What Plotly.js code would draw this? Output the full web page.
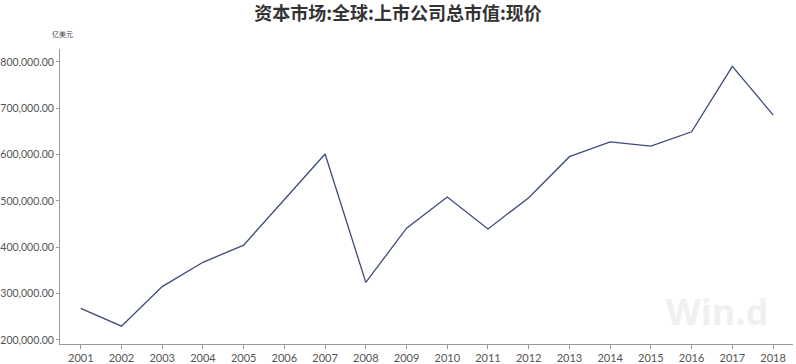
<!DOCTYPE html>
<html><head><meta charset="utf-8">
<script src="https://cdn.plot.ly/plotly-3.0.1.min.js"></script>
<style>html,body{margin:0;padding:0;background:#fff;}#chart{width:796px;height:364px;}</style>
</head><body><div id="chart"></div>
<script>
const years = ['2001','2002','2003','2004','2005','2006','2007','2008','2009','2010','2011','2012','2013','2014','2015','2016','2017','2018'];
const marketCap = [268000, 229500, 315000, 367400, 404500, 502000, 601300, 324000, 441000, 508200, 439500, 507000, 595500, 627300, 618300, 649300, 790400, 685800];
const yTickVals = [200000, 300000, 400000, 500000, 600000, 700000, 800000];
const yTickText = ['200,000.00','300,000.00','400,000.00','500,000.00','600,000.00','700,000.00','800,000.00'];
const titleText = '资本市场:全球:上市公司总市值:现价';
const unitText = '亿美元';
const watermark = 'Win.d';

const xNum = years.map(Number);
const trace = {
  x: xNum, y: marketCap, type: 'scatter', mode: 'lines',
  line: {color: '#3d4a7c', width: 1.3}, hoverinfo: 'x+y'
};
const layout = {
  width: 796, height: 364,
  margin: {l: 60, r: 3, t: 49, b: 20},
  paper_bgcolor: '#fff', plot_bgcolor: '#fff',
  showlegend: false,
  title: {text: '<b>' + titleText + '</b>', x: 0.5, xanchor: 'center', y: 0.962, yanchor: 'middle',
          font: {family: 'Noto Sans CJK SC', size: 18, color: '#333'}},
  xaxis: {
    range: [2000.49, 2018.49], tickvals: xNum, ticktext: years,
    showgrid: false, zeroline: false, showline: true, linecolor: '#999', linewidth: 1,
    ticks: 'outside', ticklen: 4, tickcolor: '#999',
    tickfont: {family: 'Lato, Open Sans', size: 11, color: '#555'}
  },
  yaxis: {
    range: [191000, 828000], tickvals: yTickVals, ticktext: yTickText,
    showgrid: false, zeroline: false, showline: true, linecolor: '#999', linewidth: 1,
    ticks: 'outside', ticklen: 3, tickcolor: '#999',
    tickfont: {family: 'Lato, Open Sans', size: 10.5, color: '#555'}
  },
  annotations: [
    {text: unitText, xref: 'paper', yref: 'paper', x: 0, y: 1, xanchor: 'center', yanchor: 'bottom',
     xshift: 2, yshift: 8, showarrow: false, font: {family: 'Noto Sans CJK SC', size: 7, color: '#444'}},
    {text: '<b>' + watermark + '</b>', xref: 'paper', yref: 'paper', x: 0.97, y: 0.0, xanchor: 'right', yanchor: 'bottom',
     yshift: 6, showarrow: false, font: {family: 'Open Sans', size: 36, color: '#f0f0f0'}}
  ]
};
Plotly.newPlot('chart', [trace], layout, {displayModeBar: false, staticPlot: true});
</script></body></html>
